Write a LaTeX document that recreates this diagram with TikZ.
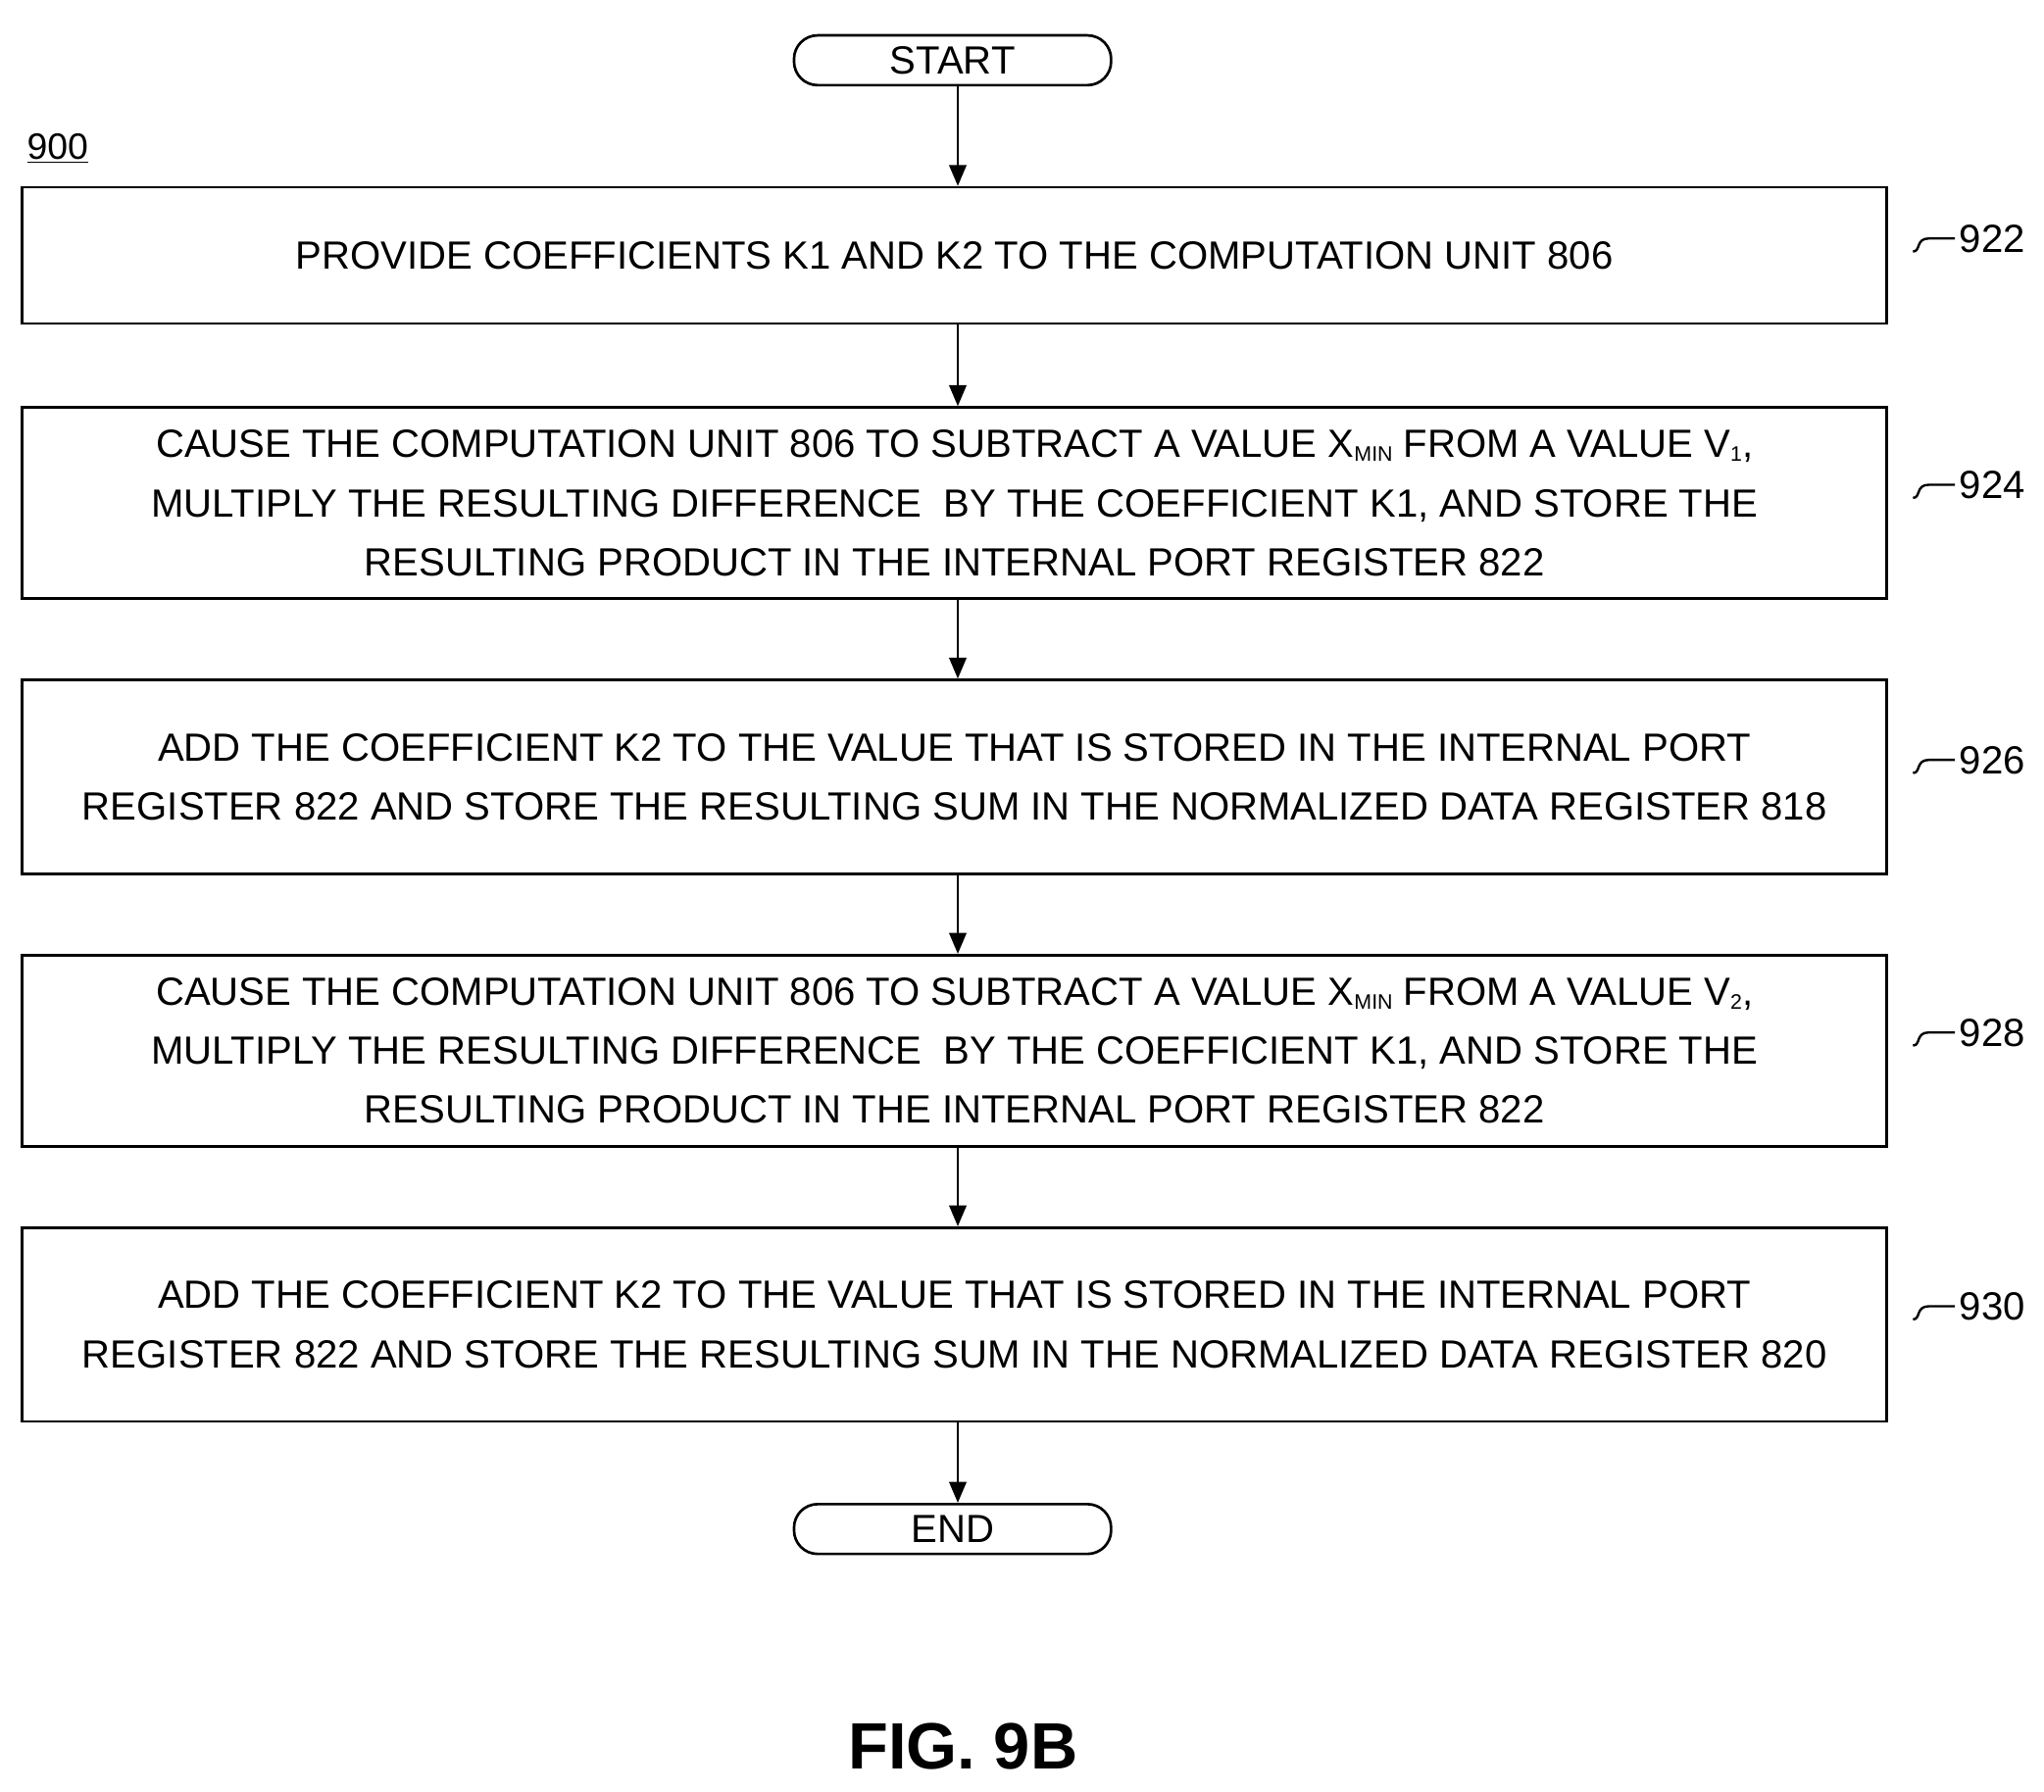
\documentclass[tikz,border=0pt]{standalone}
\usepackage{fontspec}
\setmainfont{Liberation Sans}
\usetikzlibrary{arrows.meta}
\begin{document}
\begin{tikzpicture}[x=1pt,y=-1pt,
 box/.style={draw,line width=2pt,minimum width=1423pt,align=center,font=\fontsize{30}{45}\selectfont,inner sep=0pt},
 term/.style={draw,line width=2pt,rounded corners=18pt,minimum width=242pt,minimum height=38pt,font=\fontsize{30}{36}\selectfont,inner sep=0pt},
 arr/.style={line width=2pt,-{Triangle[length=16pt,width=13pt]}},
 lbl/.style={font=\fontsize{30}{36}\selectfont,anchor=west}]
\useasboundingbox (0,0) rectangle (1560,1367);
\newcommand{\sub}[1]{\raisebox{-0.1em}{\fontsize{16}{16}\selectfont #1}}
\node[term] (start) at (727,46) {START};
\node[box,minimum height=104pt] (b922) at (728.5,195) {PROVIDE COEFFICIENTS K1 AND K2 TO THE COMPUTATION UNIT 806};
\node[box,minimum height=146pt] (b924) at (728.5,384) {CAUSE THE COMPUTATION UNIT 806 TO SUBTRACT A VALUE X\sub{MIN} FROM A VALUE V\sub{1},\\MULTIPLY THE RESULTING DIFFERENCE\ \ BY THE COEFFICIENT K1, AND STORE THE\\RESULTING PRODUCT IN THE INTERNAL PORT REGISTER 822};
\node[box,minimum height=148pt] (b926) at (728.5,593) {ADD THE COEFFICIENT K2 TO THE VALUE THAT IS STORED IN THE INTERNAL PORT\\REGISTER 822 AND STORE THE RESULTING SUM IN THE NORMALIZED DATA REGISTER 818};
\node[box,minimum height=146pt] (b928) at (728.5,802) {CAUSE THE COMPUTATION UNIT 806 TO SUBTRACT A VALUE X\sub{MIN} FROM A VALUE V\sub{2},\\MULTIPLY THE RESULTING DIFFERENCE\ \ BY THE COEFFICIENT K1, AND STORE THE\\RESULTING PRODUCT IN THE INTERNAL PORT REGISTER 822};
\node[box,minimum height=148pt] (b930) at (728.5,1011) {ADD THE COEFFICIENT K2 TO THE VALUE THAT IS STORED IN THE INTERNAL PORT\\REGISTER 822 AND STORE THE RESULTING SUM IN THE NORMALIZED DATA REGISTER 820};
\node[term] (end) at (727,1167) {END};
\draw[arr] (start.south -| 731,0) -- (b922.north -| 731,0);
\draw[arr] (b922.south -| 731,0) -- (b924.north -| 731,0);
\draw[arr] (b924.south -| 731,0) -- (b926.north -| 731,0);
\draw[arr] (b926.south -| 731,0) -- (b928.north -| 731,0);
\draw[arr] (b928.south -| 731,0) -- (b930.north -| 731,0);
\draw[arr] (b930.south -| 731,0) -- (end.north -| 731,0);
\node[font=\fontsize{28}{34}\selectfont] (n900) at (44,113) {\underline{900}};
\foreach \n/\y in {922/182,924/370,926/580,928/788,930/997}{
 \node[lbl] (l\n) at (1492,\y) {\n};
 \draw[line width=1.8pt] (1460,\y+10) .. controls (1466,\y+10) and (1462,\y) .. (1472,\y) -- (l\n.west);
}
\node[font=\bfseries\fontsize{50}{60}\selectfont] (fig) at (735,1333) {FIG. 9B};
\end{tikzpicture}
\end{document}
